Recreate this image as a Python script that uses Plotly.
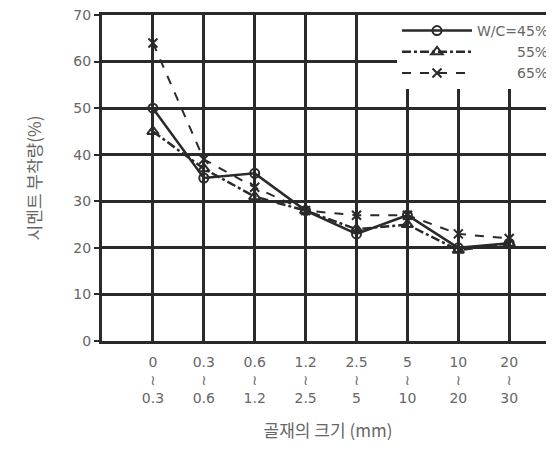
import plotly.graph_objects as go

categories = ["0<br>≀<br>0.3", "0.3<br>≀<br>0.6", "0.6<br>≀<br>1.2", "1.2<br>≀<br>2.5",
              "2.5<br>≀<br>5", "5<br>≀<br>10", "10<br>≀<br>20", "20<br>≀<br>30"]
x_idx = [0, 1, 2, 3, 4, 5, 6, 7]
wc45 = [50, 35, 36, 28, 23, 27, 20, 21]
wc55 = [45, 37, 31, 28, 24, 25, 19.5, 21]
wc65 = [64, 39, 33, 28, 27, 27, 23, 22]
series_names = ["W/C=45%", "&nbsp;&nbsp;&nbsp;&nbsp;&nbsp;&nbsp;&nbsp;&nbsp;&nbsp;55%",
                "&nbsp;&nbsp;&nbsp;&nbsp;&nbsp;&nbsp;&nbsp;&nbsp;&nbsp;65%"]
y_ticks = [0, 10, 20, 30, 40, 50, 60, 70]

LINE = "#2a2a2a"
TXT = "#666666"
FONT = "Noto Sans CJK KR"

fig = go.Figure()
fig.add_trace(go.Scatter(x=x_idx, y=wc45, name=series_names[0], mode="lines+markers",
                         line=dict(color=LINE, width=2.5),
                         marker=dict(symbol="circle-open", size=9, color=LINE, line=dict(width=2))))
fig.add_trace(go.Scatter(x=x_idx, y=wc55, name=series_names[1], mode="lines+markers",
                         line=dict(color=LINE, width=2.5, dash="dashdot"),
                         marker=dict(symbol="triangle-up-open", size=10, color=LINE, line=dict(width=2))))
fig.add_trace(go.Scatter(x=x_idx, y=wc65, name=series_names[2], mode="lines+markers",
                         line=dict(color=LINE, width=2, dash="dash"),
                         marker=dict(symbol="x-thin-open", size=9, color=LINE, line=dict(width=2))))

fig.update_layout(
    width=546, height=442,
    margin=dict(l=94, r=0, t=7, b=109),
    paper_bgcolor="white", plot_bgcolor="white",
    font=dict(family=FONT, color=TXT, size=13),
    showlegend=True,
    legend=dict(x=1.0, y=1.0, xanchor="right", yanchor="top",
                bgcolor="white", borderwidth=0,
                font=dict(family="DejaVu Sans", size=14, color=TXT),
                itemwidth=70, tracegroupgap=0),
    xaxis=dict(range=[-1, 7.88], tickmode="array", tickvals=x_idx, ticktext=categories,
               showgrid=True, gridcolor=LINE, gridwidth=2.5,
               showline=True, linecolor=LINE, linewidth=3, mirror=True,
               ticks="", zeroline=False, ticklabelstandoff=6,
               tickfont=dict(family="DejaVu Sans", size=14, color=TXT),
               title=dict(text="골재의 크기 (mm)", standoff=20,
                          font=dict(family=FONT, size=17, color=TXT))),
    yaxis=dict(range=[0, 70], tickmode="array", tickvals=y_ticks,
               showgrid=True, gridcolor=LINE, gridwidth=2.5,
               showline=True, linecolor=LINE, linewidth=3,
               ticks="outside", ticklen=5, tickcolor=LINE, tickwidth=2,
               zeroline=False, ticklabeloverflow="allow",
               tickfont=dict(family="DejaVu Sans", size=14, color=TXT),
               title=dict(text="시멘트 부착량(%)", standoff=28,
                          font=dict(family=FONT, size=17, color=TXT))),
)

fig.write_html("out.html")
